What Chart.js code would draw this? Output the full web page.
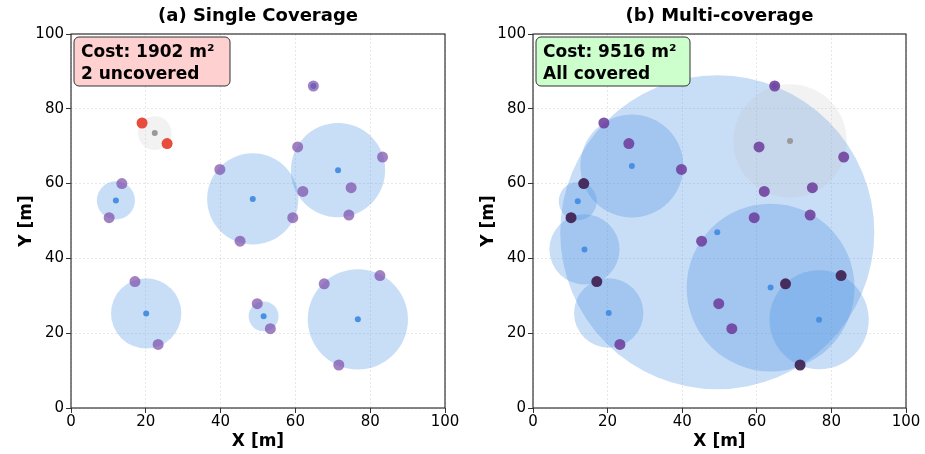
<!DOCTYPE html>
<html>
<head>
<meta charset="utf-8">
<script src="https://cdn.jsdelivr.net/npm/chart.js@4/dist/chart.umd.min.js"></script>
<style>
  body { margin: 0; background: #fff; }
  .panel { position: absolute; top: 0; height: 454px; }
</style>
</head>
<body>
<div class="panel" style="left:0;width:462px"><canvas id="chartA"></canvas></div>
<div class="panel" style="left:462px;width:463px"><canvas id="chartB"></canvas></div>
<script>
// ? demand points (same in both panels)
var pointX = [19.0, 25.7, 64.8, 13.6, 10.2, 39.8, 45.2, 60.6, 62.0, 59.3, 74.9, 74.3, 83.3, 17.1, 23.3, 49.8, 53.3, 67.7, 82.6, 71.6];
var pointY = [76.2, 70.7, 86.1, 60.0, 50.9, 63.8, 44.6, 69.8, 57.9, 50.9, 58.9, 51.6, 67.1, 33.8, 17.0, 27.9, 21.2, 33.2, 35.4, 11.5];
// how many sensors cover each point
var coverA = [0, 0, 1, 1, 1, 1, 1, 1, 1, 1, 1, 1, 1, 1, 1, 1, 1, 1, 1, 1];
var coverB = [2, 2, 2, 3, 3, 2, 2, 2, 2, 2, 2, 2, 2, 3, 2, 2, 2, 3, 3, 3];

// ? sensors, panel (a)
var sensAX = [12.0, 48.6, 71.4, 20.1, 51.5, 76.7, 64.8];
var sensAY = [55.5, 55.9, 63.6, 25.3, 24.5, 23.7, 86.1];
var sensAR = [5.1, 12.2, 12.6, 9.4, 4.0, 13.4, 0];
var idleAX = [22.4];
var idleAY = [73.5];
var idleAR = [4.5];

// ? sensors, panel (b)
var sensBX = [12.0, 13.8, 26.5, 20.3, 49.4, 63.7, 76.7, 64.8];
var sensBY = [55.3, 42.4, 64.7, 25.4, 47.0, 32.2, 23.6, 86.1];
var sensBR = [5.1, 9.4, 13.8, 9.3, 42.1, 22.5, 13.3, 0];
var idleBX = [68.9];
var idleBY = [71.4];
var idleBR = [15.2];

var axisTicks = [0, 20, 40, 60, 80, 100];

function zip(xs, ys, rs) {
    return xs.map(function (x, i) {
        return { x: x, y: ys[i], r: rs ? rs[i] : 0 };
    });
}

// radius given in metres -> pixels through the x scale
function metresToPx(ctx) {
    var s = ctx.chart.scales.x;
    if (!ctx.raw) return 0;
    return Math.abs(s.getPixelForValue(ctx.raw.r) - s.getPixelForValue(0));
}

var pointColors = {
    0: "#e74c3c",
    1: "rgba(125,80,170,0.72)",
    2: "rgba(112,66,160,0.9)",
    3: "rgba(66,38,86,0.95)",
};

var panelPlugin = {
    id: "panelDeco",
    afterDraw: function (chart) {
        var o = chart.options.plugins.panelDeco;
        var a = chart.chartArea;
        var ctx = chart.ctx;
        ctx.save();
        // frame
        ctx.strokeStyle = "#333";
        ctx.lineWidth = 1.2;
        ctx.strokeRect(a.left, a.top, a.right - a.left, a.bottom - a.top);
        // title
        ctx.fillStyle = "#000";
        ctx.font = "bold 18px 'DejaVu Sans'";
        ctx.textAlign = "center";
        ctx.textBaseline = "middle";
        ctx.fillText(o.title, (a.left + a.right) / 2, 16);
        // cost box
        var bx = a.left + 3, by = a.top + 3, bw = o.boxW, bh = 49;
        ctx.beginPath();
        ctx.roundRect(bx, by, bw, bh, 5);
        ctx.fillStyle = o.boxFill;
        ctx.fill();
        ctx.strokeStyle = "#333";
        ctx.lineWidth = 1;
        ctx.stroke();
        ctx.fillStyle = "#000";
        ctx.font = "bold 17px 'DejaVu Sans'";
        ctx.textAlign = "left";
        ctx.textBaseline = "alphabetic";
        ctx.fillText(o.line1, bx + 7, by + 20);
        ctx.fillText(o.line2, bx + 7, by + 42);
        ctx.restore();
    },
};

function axisOpts(title, isY) {
    return {
        type: "linear",
        min: 0,
        max: 100,
        afterBuildTicks: function (scale) {
            scale.ticks = axisTicks.map(function (v) { return { value: v }; });
        },
        afterFit: function (scale) {
            if (isY) scale.width = 57;
            else scale.height = 46;
        },
        ticks: {
            color: "#000",
            font: { family: "DejaVu Sans", size: 15 },
            padding: isY ? 2 : 0,
            maxRotation: 0,
        },
        grid: {
            color: "rgba(0,0,0,0.12)",
            lineWidth: 0.8,
            tickColor: "#333",
            tickLength: 5,
            tickWidth: 1,
            tickBorderDash: [],
        },
        border: { display: false, dash: [2, 2] },
        title: {
            display: true,
            text: title,
            color: "#000",
            font: { family: "DejaVu Sans", size: 17, weight: "bold" },
            padding: { top: 2, bottom: 2 },
        },
    };
}

function makePanel(elemId, sens, idle, cover, deco, padRight) {
    var pts = zip(pointX, pointY);
    var datasets = [
        {
            label: "points",
            data: pts,
            order: 0,
            pointRadius: 5.5,
            pointBorderWidth: 0,
            pointBackgroundColor: cover.map(function (c) { return pointColors[c]; }),
        },
        {
            label: "centres",
            data: sens,
            order: 1,
            pointRadius: 3,
            pointBorderWidth: 0,
            pointBackgroundColor: "#4a90e2",
        },
        {
            label: "idle centre",
            data: idle,
            order: 1,
            pointRadius: 3,
            pointBorderWidth: 0,
            pointBackgroundColor: "#999999",
        },
        {
            label: "idle range",
            data: idle,
            order: 2,
            pointRadius: metresToPx,
            pointBorderWidth: 0,
            pointBackgroundColor: "rgba(195,195,195,0.22)",
        },
        {
            label: "range",
            data: sens,
            order: 3,
            pointRadius: metresToPx,
            pointBorderWidth: 0,
            pointBackgroundColor: "rgba(74,144,226,0.3)",
        },
    ];

    return new Chart(document.getElementById(elemId), {
        type: "scatter",
        data: { datasets: datasets },
        plugins: [panelPlugin],
        options: {
            animation: false,
            responsive: true,
            maintainAspectRatio: false,
            events: [],
            layout: { padding: { top: 34, left: 14, right: padRight, bottom: 0 } },
            scales: {
                x: axisOpts("X [m]", false),
                y: axisOpts("Y [m]", true),
            },
            plugins: {
                legend: { display: false },
                tooltip: { enabled: false },
                panelDeco: deco,
            },
        },
    });
}

var chartA = makePanel(
    "chartA",
    zip(sensAX, sensAY, sensAR),
    zip(idleAX, idleAY, idleAR),
    coverA,
    { title: "(a) Single Coverage", line1: "Cost: 1902 m\u00b2", line2: "2 uncovered", boxFill: "#ffd0d0", boxW: 156 },
    17
);

var chartB = makePanel(
    "chartB",
    zip(sensBX, sensBY, sensBR),
    zip(idleBX, idleBY, idleBR),
    coverB,
    { title: "(b) Multi-coverage", line1: "Cost: 9516 m\u00b2", line2: "All covered", boxFill: "#ccffcc", boxW: 154 },
    19
);
</script>
</body>
</html>
